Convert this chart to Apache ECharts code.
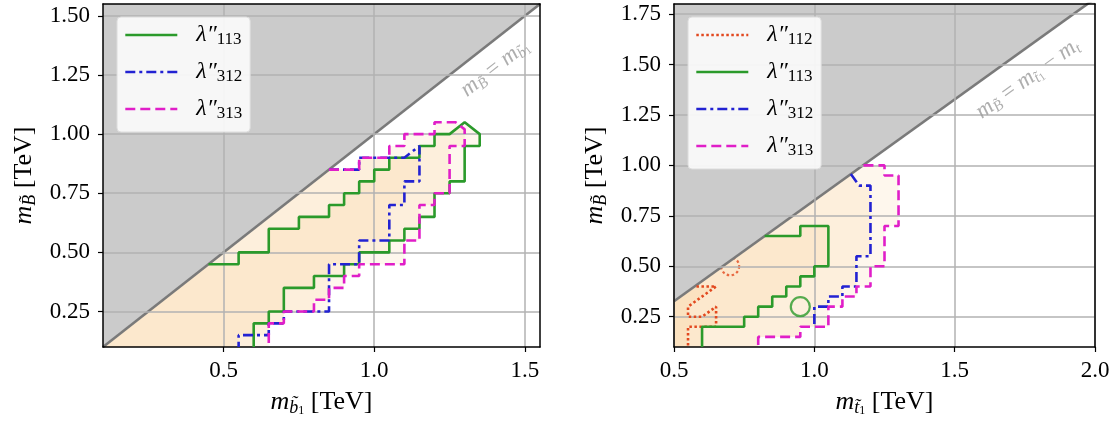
<!DOCTYPE html>
<html>
<head>
<meta charset="utf-8">
<script src="https://cdn.jsdelivr.net/npm/echarts@6/dist/echarts.min.js"></script>
<style>
  html, body { margin: 0; padding: 0; background: #fff; }
  #chart { width: 1119px; height: 425px; }
</style>
</head>
<body>
<div id="chart"></div>
<script>
// tick values
const leftXTicks = [0.5, 1.0, 1.5];
const leftYTicks = [0.25, 0.5, 0.75, 1.0, 1.25, 1.5];
const rightXTicks = [0.5, 1.0, 1.5, 2.0];
const rightYTicks = [0.25, 0.5, 0.75, 1.0, 1.25, 1.5, 1.75];

// kinematic limits (m_B = m_b1, m_B = m_t1 - m_t)
const leftDiag = [[0.1, 0.1], [1.55, 1.55]];
const rightDiag = [[0.5, 0.327], [2.0, 1.827]];

// left panel contours (sbottom)
const left113 = [[0.45,0.45],[0.55,0.45],[0.55,0.5],[0.65,0.5],[0.65,0.6],[0.75,0.6],[0.75,0.65],[0.85,0.65],[0.85,0.7],[0.9,0.7],[0.9,0.75],[0.95,0.75],[0.95,0.8],[1.0,0.8],[1.0,0.85],[1.05,0.85],[1.05,0.9],[1.15,0.9],[1.15,0.95],[1.2,0.95],[1.2,1.0],[1.25,1.0],[1.3,1.05],[1.35,1.0],[1.35,0.95],[1.3,0.95],[1.3,0.8],[1.25,0.8],[1.25,0.75],[1.2,0.75],[1.2,0.65],[1.15,0.65],[1.15,0.6],[1.1,0.6],[1.1,0.55],[1.05,0.55],[1.05,0.5],[0.95,0.5],[0.95,0.45],[0.9,0.45],[0.9,0.4],[0.8,0.4],[0.8,0.35],[0.7,0.35],[0.7,0.25],[0.65,0.25],[0.65,0.2],[0.6,0.2],[0.6,0.1]];
const left312 = [[0.85,0.85],[0.95,0.85],[0.95,0.9],[1.1,0.9],[1.15,0.95],[1.15,0.8],[1.1,0.8],[1.1,0.7],[1.05,0.7],[1.05,0.55],[0.95,0.55],[0.95,0.45],[0.85,0.45],[0.85,0.25],[0.7,0.25],[0.7,0.2],[0.65,0.2],[0.65,0.15],[0.55,0.15],[0.55,0.1]];
const left313 = [[0.85,0.85],[0.95,0.85],[0.95,0.9],[1.05,0.9],[1.05,0.95],[1.1,0.95],[1.1,1.0],[1.2,1.0],[1.2,1.05],[1.27,1.05],[1.3,1.02],[1.3,0.95],[1.25,0.95],[1.25,0.75],[1.2,0.75],[1.2,0.7],[1.15,0.7],[1.15,0.55],[1.1,0.55],[1.1,0.45],[0.95,0.45],[0.95,0.4],[0.9,0.4],[0.9,0.35],[0.85,0.35],[0.85,0.3],[0.8,0.3],[0.8,0.25],[0.7,0.25],[0.7,0.2],[0.65,0.2],[0.65,0.1]];

// right panel contours (stop)
const right112 = [[0.58,0.4],[0.65,0.4],[0.55,0.3],[0.55,0.25],[0.6,0.25],[0.65,0.3],[0.65,0.2],[0.55,0.2],[0.55,0.1]];
const right112Island = [[0.7, 0.5]];
const right113 = [[0.823,0.65],[0.95,0.65],[0.95,0.7],[1.05,0.7],[1.05,0.5],[1.0,0.5],[1.0,0.45],[0.95,0.45],[0.95,0.4],[0.9,0.4],[0.9,0.35],[0.85,0.35],[0.85,0.3],[0.8,0.3],[0.8,0.25],[0.75,0.25],[0.75,0.2],[0.6,0.2],[0.6,0.1]];
const right113Island = [[0.95, 0.3]];
const right312 = [[1.13,0.957],[1.16,0.9],[1.2,0.9],[1.2,0.55],[1.15,0.55],[1.15,0.4],[1.1,0.4],[1.1,0.35],[1.05,0.35],[1.05,0.3],[1.0,0.3],[1.0,0.2]];
const right313 = [[1.175,1.0],[1.25,1.0],[1.25,0.95],[1.3,0.95],[1.3,0.7],[1.25,0.7],[1.25,0.5],[1.2,0.5],[1.2,0.4],[1.15,0.4],[1.15,0.35],[1.1,0.35],[1.1,0.3],[1.05,0.3],[1.05,0.2],[0.95,0.2],[0.95,0.15],[0.8,0.15],[0.8,0.1]];

const F = 'Liberation Serif';
const styles = {
    l112: {color: '#e2481e', type: [2.5, 2.5]},
    l113: {color: '#2b9a2b', type: 'solid'},
    l312: {color: '#2222d2', type: [10, 4, 3, 4]},
    l313: {color: '#e01ec8', type: [10, 5]}
};

const mathRich = {
    m: {fontFamily: F, fontStyle: 'italic', fontSize: 26, lineHeight: 30, verticalAlign: 'middle', color: '#000'},
    s: {fontFamily: F, fontStyle: 'italic', fontSize: 18, lineHeight: 17, verticalAlign: 'bottom', color: '#000'},
    ss: {fontFamily: F, fontSize: 12, lineHeight: 8, verticalAlign: 'bottom', color: '#000'},
    t: {fontFamily: F, fontSize: 26, lineHeight: 30, verticalAlign: 'middle', color: '#000'}
};
const greyRich = {
    m: {fontFamily: F, fontStyle: 'italic', fontSize: 23, lineHeight: 26, verticalAlign: 'middle', color: '#9a9a9a'},
    s: {fontFamily: F, fontStyle: 'italic', fontSize: 15, lineHeight: 14, verticalAlign: 'bottom', color: '#9a9a9a'},
    ss: {fontFamily: F, fontSize: 11, lineHeight: 7, verticalAlign: 'bottom', color: '#9a9a9a'},
    t: {fontFamily: F, fontSize: 23, lineHeight: 26, verticalAlign: 'middle', color: '#9a9a9a'}
};

function mainAxis(dim, gi, min, max, ticks, digits, name, gap) {
    return {
        type: 'value', gridIndex: gi, min: min, max: max, z: 3,
        position: dim === 'x' ? 'bottom' : 'left',
        axisLine: {show: true, onZero: false, lineStyle: {color: '#000', width: 1.5}},
        axisTick: {show: true, inside: false, length: 5, customValues: ticks, lineStyle: {color: '#000', width: 1.2}},
        axisLabel: {
            customValues: ticks, formatter: v => v.toFixed(digits),
            fontFamily: F, fontSize: 23, color: '#000', margin: dim === 'x' ? 12 : 13
        },
        splitLine: {show: true, lineStyle: {color: '#b2b2b2', width: 1.5}},
        name: name, nameLocation: 'middle', nameGap: gap,
        nameRotate: dim === 'x' ? 0 : 90,
        nameTextStyle: {rich: mathRich}
    };
}
function frameAxis(dim, gi, min, max) {
    return {
        type: 'value', gridIndex: gi, min: min, max: max, z: 3,
        position: dim === 'x' ? 'top' : 'right',
        axisLine: {show: true, onZero: false, lineStyle: {color: '#000', width: 1.5}},
        axisTick: {show: false}, axisLabel: {show: false}, splitLine: {show: false}
    };
}

function fillSeries(poly, ai) {
    return {
        type: 'custom', xAxisIndex: ai, yAxisIndex: ai, z: 1, silent: true,
        data: [[poly[0][0], poly[0][1]]],
        renderItem: (params, api) => ({
            type: 'polygon',
            shape: {points: poly.map(p => api.coord(p))},
            style: {fill: 'rgba(245,175,80,0.1)'}
        })
    };
}
function contour(name, data, ai) {
    return {
        type: 'line', name: name, xAxisIndex: ai, yAxisIndex: ai, z: 4,
        data: data, symbol: 'none', silent: true,
        lineStyle: {color: styles[name].color, type: styles[name].type, width: 2.6, cap: 'butt'},
        itemStyle: {color: styles[name].color}
    };
}
function island(name, data, ai, size, z) {
    return {
        type: 'scatter', name: name + '_island', xAxisIndex: ai, yAxisIndex: ai, z: z,
        data: data, symbol: 'circle', symbolSize: size, silent: true,
        itemStyle: {color: 'rgba(0,0,0,0)', borderColor: styles[name].color, borderWidth: 2.2,
            borderType: styles[name].type === 'solid' ? 'solid' : [2.5, 2.5]}
    };
}
function limit(data, ai) {
    return {
        type: 'line', xAxisIndex: ai, yAxisIndex: ai, z: 2, data: data, symbol: 'none', silent: true,
        lineStyle: {color: '#7a7a7a', width: 2.6},
        areaStyle: {color: '#cbcbcb', opacity: 1, origin: 'end'}
    };
}
function limitLabel(pos, text, angle, ai) {
    return {
        type: 'scatter', xAxisIndex: ai, yAxisIndex: ai, z: 5, silent: true,
        data: [pos], symbolSize: 1, itemStyle: {color: 'rgba(0,0,0,0)'},
        label: {show: true, position: 'inside', rotate: angle, formatter: text, rich: greyRich}
    };
}

const leftCorner = [[0.1, 0.1]];
const rightCorner = [[0.5, 0.1], [0.5, 0.327]];
const blueTail = right313.slice(right313.findIndex(p => p[0] === 0.95 && p[1] === 0.2));

const legendBase = {
    orient: 'vertical', z: 10, itemWidth: 52, itemHeight: 14, itemGap: 12,
    padding: [6, 8, 10, 7],
    backgroundColor: 'rgba(255,255,255,0.85)', borderColor: '#dcdcdc', borderWidth: 1, borderRadius: 4,
    selectedMode: false,
    itemStyle: {opacity: 0},
    lineStyle: {width: 2.6},
    formatter: n => '{l|λ″}{s|' + n.slice(1) + '}',
    textStyle: {
        padding: [0, 0, 0, 14],
        rich: {
            l: {fontFamily: F, fontStyle: 'italic', fontSize: 24, lineHeight: 26, verticalAlign: 'middle', color: '#000'},
            s: {fontFamily: F, fontSize: 17, lineHeight: 16, verticalAlign: 'bottom', color: '#000'}
        }
    }
};

const chart = echarts.init(document.getElementById('chart'));
chart.setOption({
    animation: false,
    backgroundColor: '#fff',
    grid: [
        {left: 103, top: 4, width: 437, height: 343, outerBoundsMode: 'none'},
        {left: 674, top: 4, width: 421, height: 343, outerBoundsMode: 'none'}
    ],
    xAxis: [
        mainAxis('x', 0, 0.1, 1.55, leftXTicks, 1, '{m|m}{s|b\u0303}{ss|1}{t| [TeV]}', 40),
        frameAxis('x', 0, 0.1, 1.55),
        mainAxis('x', 1, 0.5, 2.0, rightXTicks, 1, '{m|m}{s|t\u0303}{ss|1}{t| [TeV]}', 40),
        frameAxis('x', 1, 0.5, 2.0)
    ],
    yAxis: [
        mainAxis('y', 0, 0.1, 1.55, leftYTicks, 2, '{m|m}{s|B\u0303}{t| [TeV]}', 64),
        frameAxis('y', 0, 0.1, 1.55),
        mainAxis('y', 1, 0.1, 1.8, rightYTicks, 2, '{m|m}{s|B\u0303}{t| [TeV]}', 64),
        frameAxis('y', 1, 0.1, 1.8)
    ],
    legend: [
        Object.assign({}, legendBase, {left: 117, top: 17, data: ['l113', 'l312', 'l313']}),
        Object.assign({}, legendBase, {left: 688, top: 17, data: ['l112', 'l113', 'l312', 'l313']})
    ],
    series: [
        // left panel
        fillSeries(left313.concat(leftCorner), 0),
        fillSeries(left312.concat(leftCorner), 0),
        fillSeries(left113.concat(leftCorner), 0),
        limit(leftDiag, 0),
        limitLabel([1.4, 1.28], '{m|m}{s|B\u0303}{t| = }{m|m}{s|b\u0303}{ss|1}', 38, 0),
        contour('l113', left113, 0),
        contour('l312', left312, 0),
        contour('l313', left313, 0),
        // right panel
        fillSeries(right313.concat(rightCorner), 2),
        fillSeries(right312.concat(blueTail, rightCorner), 2),
        fillSeries(right113.concat(rightCorner), 2),
        fillSeries(right112.concat(rightCorner), 2),
        island('l112', right112Island, 2, 18, 1.5),
        limit(rightDiag, 2),
        limitLabel([1.76, 1.43], '{m|m}{s|B\u0303}{t| = }{m|m}{s|t\u0303}{ss|1}{t| − }{m|m}{s|t}', 35.7, 2),
        contour('l112', right112, 2),
        contour('l113', right113, 2),
        contour('l312', right312, 2),
        contour('l313', right313, 2),
        island('l113', right113Island, 2, 19, 4)
    ]
});
</script>
</body>
</html>
